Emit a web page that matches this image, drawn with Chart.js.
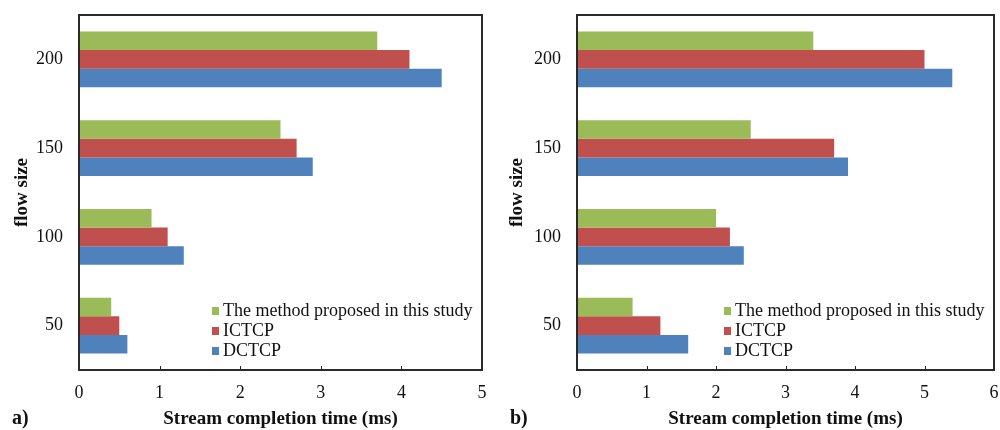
<!DOCTYPE html>
<html>
<head>
<meta charset="utf-8">
<style>
  body { margin: 0; background: #fff; }
  .panel { position: absolute; top: 0; width: 500px; height: 430px; }
  #left { left: 0; }
  #right { left: 500px; }
</style>
</head>
<body>
<div class="panel" id="left"><canvas id="chartA" width="500" height="430"></canvas></div>
<div class="panel" id="right"><canvas id="chartB" width="500" height="430"></canvas></div>

<script src="https://cdn.jsdelivr.net/npm/chart.js"></script>
<script>
  // flow sizes, top to bottom
  const flowSizes = ['200', '150', '100', '50'];
  const seriesNames = ['The method proposed in this study', 'ICTCP', 'DCTCP'];
  const seriesColors = ['#9BBB59', '#C0504D', '#4F81BD'];

  // panel a)
  const proposedA = [3.7, 2.5, 0.9, 0.4];
  const ictcpA = [4.1, 2.7, 1.1, 0.5];
  const dctcpA = [4.5, 2.9, 1.3, 0.6];
  const xTicksA = [0, 1, 2, 3, 4, 5];

  // panel b)
  const proposedB = [3.4, 2.5, 2.0, 0.8];
  const ictcpB = [5.0, 3.7, 2.2, 1.2];
  const dctcpB = [5.4, 3.9, 2.4, 1.6];
  const xTicksB = [0, 1, 2, 3, 4, 5, 6];

  const serif = "'Liberation Serif', 'Times New Roman', serif";

  // frame round the plot, inward x ticks, legend and panel letter
  const decor = {
    id: 'decor',
    afterDraw(chart, args, opts) {
      const c = chart.ctx;
      const a = chart.chartArea;
      const xs = chart.scales.x;
      c.save();
      c.strokeStyle = '#2a2a2a';
      c.lineWidth = 1;
      xs.ticks.forEach(t => {
        const px = Math.round(xs.getPixelForValue(t.value)) + 0.5;
        c.beginPath();
        c.moveTo(px, a.bottom);
        c.lineTo(px, a.bottom - 4);
        c.stroke();
      });
      c.lineWidth = 2;
      c.strokeRect(a.left, a.top, a.right - a.left, a.bottom - a.top);

      // legend
      c.font = '18px ' + serif;
      c.textBaseline = 'middle';
      c.textAlign = 'left';
      chart.data.datasets.forEach((ds, i) => {
        const y = a.bottom - 59 + i * 20;
        c.fillStyle = ds.backgroundColor;
        c.fillRect(a.right - 270, y - 4, 7, 8);
        c.fillStyle = '#111';
        c.fillText(ds.label, a.right - 259, y);
      });

      c.font = 'bold 20px ' + serif;
      c.fillStyle = '#111';
      c.fillText(opts.letter, opts.letterX, 419);
      c.restore();
    }
  };

  function makeChart(id, data, ticks, letter, letterX, yWidth, titlePad, padRight) {
    const max = ticks[ticks.length - 1];
    return new Chart(document.getElementById(id), {
      type: 'bar',
      data: {
        labels: flowSizes,
        datasets: data.map((vals, i) => ({
          label: seriesNames[i],
          data: vals,
          backgroundColor: seriesColors[i],
          borderWidth: 0,
          categoryPercentage: 0.63,
          barPercentage: 1.0
        }))
      },
      options: {
        indexAxis: 'y',
        responsive: false,
        animation: false,
        layout: { padding: { top: 15, right: padRight, left: 0, bottom: 0 } },
        plugins: {
          legend: { display: false },
          tooltip: { enabled: false },
          decor: { letter: letter, letterX: letterX }
        },
        scales: {
          x: {
            min: 0,
            max: max,
            afterBuildTicks: s => { s.ticks = ticks.map(v => ({ value: v })); },
            afterFit: s => {
              s.height = 60;
              s.paddingLeft = 0; s.paddingRight = 0; s.paddingTop = 0; s.paddingBottom = 0;
            },
            grid: { display: false, drawTicks: false },
            border: { display: false },
            ticks: { color: '#111', font: { family: serif, size: 18 }, padding: 12 },
            title: {
              display: true,
              text: 'Stream completion time (ms)',
              color: '#111',
              font: { family: serif, size: 19, weight: 'bold' },
              padding: { top: 0, bottom: 0 }
            }
          },
          y: {
            afterFit: s => {
              s.width = yWidth;
              s.paddingLeft = 0; s.paddingRight = 0; s.paddingTop = 0; s.paddingBottom = 0;
            },
            grid: { display: false, drawTicks: false },
            border: { display: false },
            ticks: { color: '#111', font: { family: serif, size: 18 }, padding: 16 },
            title: {
              display: true,
              text: 'flow size',
              color: '#111',
              font: { family: serif, size: 19, weight: 'bold' },
              padding: { top: titlePad, bottom: 0 }
            }
          }
        }
      },
      plugins: [decor]
    });
  }

  makeChart('chartA', [proposedA, ictcpA, dctcpA], xTicksA, 'a)', 12, 79, 11, 18);
  makeChart('chartB', [proposedB, ictcpB, dctcpB], xTicksB, 'b)', 10, 77, 6, 6);
</script>
</body>
</html>
